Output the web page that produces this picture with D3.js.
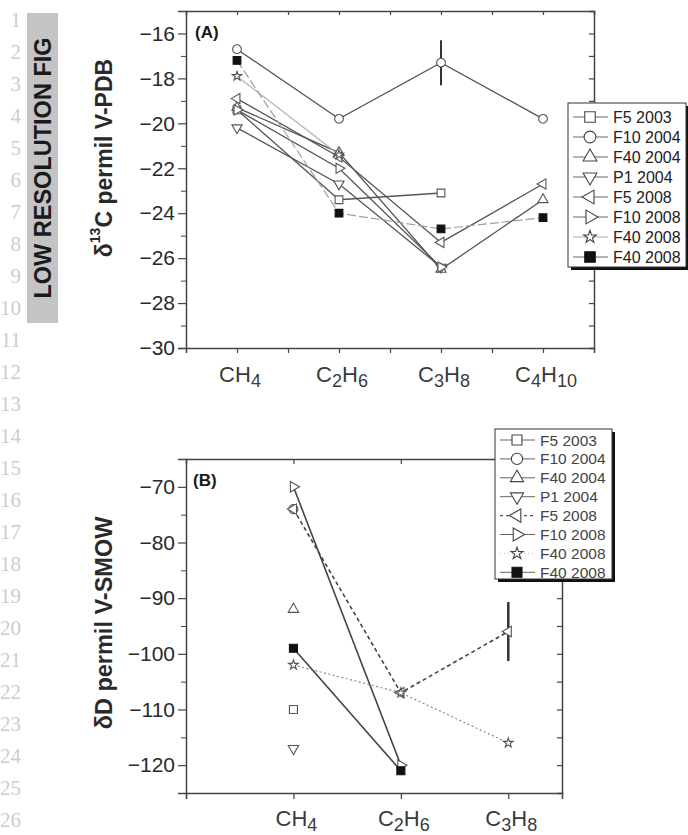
<!DOCTYPE html>
<html><head><meta charset="utf-8">
<script src="https://cdn.jsdelivr.net/npm/d3@7"></script>
<style>body{margin:0;background:#fff}svg{display:block}</style>
</head><body>
<svg id="c" width="688" height="835"></svg>
<script>
// ---------------- data ----------------
const catsA = ["CH4", "C2H6", "C3H8", "C4H10"];
const catsB = ["CH4", "C2H6", "C3H8"];
const legendLabels = ["F5 2003", "F10 2004", "F40 2004", "P1 2004", "F5 2008", "F10 2008", "F40 2008", "F40 2008"];
const yTicksA = [-30, -28, -26, -24, -22, -20, -18, -16];
const yTicksB = [-120, -110, -100, -90, -80, -70];

// panel A: delta13C (permil V-PDB), aligned with catsA
const c13_F5_2003   = [-19.4, -23.4, -23.1, null];
const c13_F10_2004  = [-16.7, -19.8, -17.3, -19.8];
const c13_F40_2004  = [-19.3, -21.3, -26.5, -23.4];
const c13_P1_2004   = [-20.2, -22.7, -26.4, null];
const c13_F5_2008   = [-18.9, -21.5, -25.3, -22.7];
const c13_F10_2008  = [-19.4, -22.0, -26.4, null];
const c13_F40_2008s = [-17.9, -21.4, null, null];
const c13_F40_2008f = [-17.2, -24.0, -24.7, -24.2];
const c13_errCat = 2, c13_errLow = -18.3, c13_errHigh = -16.3;

// panel B: deltaD (permil V-SMOW), aligned with catsB
const dD_F5_2003   = [-110, null, null];
const dD_F10_2004  = [-74, null, null];
const dD_F40_2004  = [-92, null, null];
const dD_P1_2004   = [-117, null, null];
const dD_F5_2008   = [-74, -107, -96];
const dD_F10_2008  = [-70, -120, null];
const dD_F40_2008s = [-102, -107, -116];
const dD_F40_2008f = [-99, -121, null];
const dD_errCat = 2, dD_errLow = -101.3, dD_errHigh = -90.7;

// ---------------- styles ----------------
const shapes = ["square", "circle", "up", "down", "left", "right", "star", "fsquare"];
const seriesA = [c13_F5_2003, c13_F10_2004, c13_F40_2004, c13_P1_2004, c13_F5_2008, c13_F10_2008, c13_F40_2008s, c13_F40_2008f];
const seriesB = [dD_F5_2003, dD_F10_2004, dD_F40_2004, dD_P1_2004, dD_F5_2008, dD_F10_2008, dD_F40_2008s, dD_F40_2008f];
const lineA = [
  {c:"#555", w:1.3, d:null}, {c:"#555", w:1.3, d:null}, {c:"#555", w:1.3, d:null}, {c:"#555", w:1.3, d:null},
  {c:"#555", w:1.3, d:null}, {c:"#555", w:1.3, d:null}, {c:"#b0b0b0", w:1.2, d:null}, {c:"#a0a0a0", w:1.2, d:"9,3"}
];
const lineB = [
  {c:"#444", w:1.5, d:null}, {c:"#444", w:1.5, d:null}, {c:"#444", w:1.5, d:null}, {c:"#444", w:1.5, d:null},
  {c:"#444", w:1.6, d:"4,3"}, {c:"#444", w:1.6, d:null}, {c:"#888", w:1.2, d:"2,2.5"}, {c:"#444", w:1.6, d:null}
];
const legLineA = [null,null,null,null,null,null,{c:"#aaa",w:1,d:null},null];
const legLineB = [null,null,null,null,{c:"#555",w:1.2,d:"3,3"},null,{c:"#bbb",w:1,d:"1,3"},null];
const symScale = {square: 1, fsquare: 1, circle: 1, up: 0.75, down: 0.75, left: 0.75, right: 0.75, star: 0.45};

const svg = d3.select("#c");
const FONT = "Liberation Sans, Arial, Helvetica, sans-serif";

// ---------------- line numbers & watermark ----------------
const nums = d3.range(1, 27);
svg.append("g").selectAll("text").data(nums).join("text")
  .attr("x", 21).attr("y", d => 20 + (d - 1) * 32)
  .attr("text-anchor", "end").attr("dominant-baseline", "central")
  .attr("font-family", "Liberation Serif, DejaVu Serif, serif").attr("font-size", 21)
  .attr("fill", "#cdcdcd").text(d => d);
svg.append("rect").attr("x", 27).attr("y", 13).attr("width", 31).attr("height", 310).attr("fill", "#c4c4c4");
svg.append("text").attr("transform", "translate(43,168) rotate(-90)")
  .attr("text-anchor", "middle").attr("dominant-baseline", "central")
  .attr("font-family", FONT).attr("font-weight", "bold").attr("font-size", 23.5)
  .attr("fill", "#1a1a1a").text("LOW RESOLUTION FIG");

// ---------------- helpers ----------------
function marker(g, shape, x, y, size, stroke) {
  const t = shape === "circle" ? d3.symbolCircle : shape === "star" ? d3.symbolStar :
            (shape === "square" || shape === "fsquare") ? d3.symbolSquare : d3.symbolTriangle;
  const rot = {up: 0, down: 180, left: -90, right: 90}[shape] || 0;
  g.append("path").attr("d", d3.symbol(t, size * symScale[shape])())
    .attr("transform", `translate(${x},${y}) rotate(${rot})`)
    .attr("fill", shape === "fsquare" ? "#111" : "#fff")
    .attr("stroke", shape === "fsquare" ? "#111" : stroke).attr("stroke-width", 1.1);
}
function catLabel(g, name, x, y, size) {
  const t = g.append("text").attr("x", x).attr("y", y).attr("text-anchor", "middle")
    .attr("font-family", FONT).attr("font-size", size).attr("fill", "#3a3a3a");
  const parts = name.match(/[A-Z]+|\d+/g);
  let sub = false;
  parts.forEach(p => {
    const isNum = /\d/.test(p);
    const ts = t.append("tspan").text(p);
    if (isNum && !sub) { ts.attr("dy", 5).attr("font-size", size * 0.82); sub = true; }
    else if (!isNum && sub) { ts.attr("dy", -5); sub = false; }
  });
}
function legend(g, x, y, w, h, row0, step, styles, mSize, fs, txtColor, symX, lx0, lx1, textX) {
  g.append("rect").attr("x", x + 3).attr("y", y + 3).attr("width", w).attr("height", h).attr("fill", "#111");
  g.append("rect").attr("x", x).attr("y", y).attr("width", w).attr("height", h).attr("fill", "#fff").attr("stroke", "#333").attr("stroke-width", 1);
  legendLabels.forEach((lab, i) => {
    const yy = row0 + i * step;
    const st = styles[i] || {c:"#666", w:1, d:null};
    g.append("line").attr("x1", lx0).attr("x2", lx1).attr("y1", yy).attr("y2", yy)
      .attr("stroke", st.c).attr("stroke-width", st.w).attr("stroke-dasharray", st.d);
    marker(g, shapes[i], symX, yy, mSize, "#444");
    g.append("text").attr("x", textX).attr("y", yy).attr("dominant-baseline", "central")
      .attr("font-family", FONT).attr("font-size", fs).attr("fill", txtColor).text(lab);
  });
}

// ---------------- panel A ----------------
const xA = d3.scaleLinear().domain([-0.5, 3.5]).range([186, 594]);
const yA = d3.scaleLinear().domain([-30, -15]).range([348, 11]);
const gA = svg.append("g");
const axC = "#444";
gA.append("g").attr("transform", `translate(${xA(-0.5)},0)`)
  .call(d3.axisLeft(yA).tickValues(d3.range(-29, -15, 2)).tickSize(5).tickFormat(""))
  .call(a => a.selectAll("line").attr("stroke", axC)).call(a => a.select(".domain").remove());
gA.append("g").attr("transform", `translate(${xA(-0.5)},0)`)
  .call(d3.axisLeft(yA).tickValues(yTicksA).tickSize(8).tickPadding(3))
  .call(a => a.selectAll("line").attr("stroke", axC).attr("stroke-width", 1.2))
  .call(a => a.select(".domain").attr("stroke", axC).attr("stroke-width", 1.5))
  .call(a => a.selectAll("text").attr("font-family", FONT).attr("font-size", 21).attr("fill", "#2a2a2a"));
gA.append("g").attr("transform", `translate(0,${yA(-30)})`)
  .call(d3.axisBottom(xA).tickValues(d3.range(0, 3.01, 0.5)).tickSize(5).tickFormat(""))
  .call(a => a.selectAll("line").attr("stroke", axC).attr("stroke-width", 1.2))
  .call(a => a.select(".domain").attr("stroke", axC).attr("stroke-width", 1.5));
gA.append("g").attr("transform", `translate(0,${yA(-15)})`)
  .call(d3.axisTop(xA).tickValues(d3.range(0, 3.01, 0.5)).tickSize(-4).tickFormat(""))
  .call(a => a.selectAll("line").attr("stroke", axC).attr("stroke-width", 1.2))
  .call(a => a.select(".domain").attr("stroke", axC).attr("stroke-width", 1.5));
gA.append("g").attr("transform", `translate(${xA(3.5)},0)`)
  .call(d3.axisRight(yA).tickValues(d3.range(-29, -15, 1)).tickSize(-5).tickFormat(""))
  .call(a => a.selectAll("line").attr("stroke", axC).attr("stroke-width", 1.2))
  .call(a => a.select(".domain").attr("stroke", axC).attr("stroke-width", 1.5));
catsA.forEach((c, i) => catLabel(gA, c, xA(i) + 3, yA(-30) + 34, 22));
gA.append("text").attr("transform", `translate(104,158) rotate(-90)`)
  .attr("text-anchor", "middle").attr("dominant-baseline", "central")
  .attr("font-family", FONT).attr("font-weight", "bold").attr("font-size", 23).attr("fill", "#2a2a2a")
  .call(t => { t.append("tspan").text("δ"); t.append("tspan").attr("dy", -9).attr("font-size", 14).text("13");
               t.append("tspan").attr("dy", 9).text("C  permil V-PDB"); });
gA.append("text").attr("x", 195).attr("y", 38).attr("font-family", FONT).attr("font-weight", "bold")
  .attr("font-size", 17).attr("fill", "#1a1a1a").text("(A)");
const lineGenA = d3.line().defined(d => d != null).x((d, i) => xA(i)).y(d => yA(d));
seriesA.forEach((s, k) => {
  const st = lineA[k];
  gA.append("path").attr("d", lineGenA(s)).attr("fill", "none")
    .attr("stroke", st.c).attr("stroke-width", st.w).attr("stroke-dasharray", st.d);
});
gA.append("line").attr("x1", xA(c13_errCat)).attr("x2", xA(c13_errCat))
  .attr("y1", yA(c13_errLow)).attr("y2", yA(c13_errHigh)).attr("stroke", "#333").attr("stroke-width", 2);
seriesA.forEach((s, k) => s.forEach((v, i) => { if (v != null) marker(gA, shapes[k], xA(i), yA(v), 60, "#555"); }));
legend(gA, 568, 103, 118, 164, 117, 20, legLineA, 110, 16, "#222", 590, 573, 608, 613);

// ---------------- panel B ----------------
const xB = d3.scaleLinear().domain([-1, 2.5]).range([186, 562]);
const yB = d3.scaleLinear().domain([-125, -65]).range([793, 459]);
const gB = svg.append("g");
gB.append("g").attr("transform", `translate(${xB(-1)},0)`)
  .call(d3.axisLeft(yB).tickValues(d3.range(-125, -64, 10)).tickSize(5).tickFormat(""))
  .call(a => a.selectAll("line").attr("stroke", axC)).call(a => a.select(".domain").remove());
gB.append("g").attr("transform", `translate(${xB(-1)},0)`)
  .call(d3.axisLeft(yB).tickValues(yTicksB).tickSize(8).tickPadding(3))
  .call(a => a.selectAll("line").attr("stroke", axC).attr("stroke-width", 1.2))
  .call(a => a.select(".domain").attr("stroke", axC).attr("stroke-width", 1.5))
  .call(a => a.selectAll("text").attr("font-family", FONT).attr("font-size", 21).attr("fill", "#2a2a2a"));
gB.append("g").attr("transform", `translate(0,${yB(-125)})`)
  .call(d3.axisBottom(xB).tickValues([-1, 0, 1, 2]).tickSize(6).tickFormat(""))
  .call(a => a.selectAll("line").attr("stroke", axC).attr("stroke-width", 1.2))
  .call(a => a.select(".domain").attr("stroke", axC).attr("stroke-width", 1.5));
gB.append("g").attr("transform", `translate(0,${yB(-65)})`)
  .call(d3.axisTop(xB).tickValues([0, 1, 2]).tickSize(-5).tickFormat(""))
  .call(a => a.selectAll("line").attr("stroke", axC).attr("stroke-width", 1.2))
  .call(a => a.select(".domain").attr("stroke", axC).attr("stroke-width", 1.5));
gB.append("g").attr("transform", `translate(${xB(2.5)},0)`)
  .call(d3.axisRight(yB).tickValues(d3.range(-120, -64, 5)).tickSize(-5).tickFormat(""))
  .call(a => a.selectAll("line").attr("stroke", axC).attr("stroke-width", 1.2))
  .call(a => a.select(".domain").attr("stroke", axC).attr("stroke-width", 1.5));
catsB.forEach((c, i) => catLabel(gB, c, xB(i) + 3, yB(-125) + 33, 22));
gB.append("text").attr("transform", `translate(104,623) rotate(-90)`)
  .attr("text-anchor", "middle").attr("dominant-baseline", "central")
  .attr("font-family", FONT).attr("font-weight", "bold").attr("font-size", 23.5).attr("fill", "#2a2a2a")
  .text("δD  permil V-SMOW");
gB.append("text").attr("x", 193).attr("y", 486).attr("font-family", FONT).attr("font-weight", "bold")
  .attr("font-size", 17).attr("fill", "#1a1a1a").text("(B)");
const lineGenB = d3.line().defined(d => d != null).x((d, i) => xB(i)).y(d => yB(d));
seriesB.forEach((s, k) => {
  const st = lineB[k];
  gB.append("path").attr("d", lineGenB(s)).attr("fill", "none")
    .attr("stroke", st.c).attr("stroke-width", st.w).attr("stroke-dasharray", st.d);
});
gB.append("line").attr("x1", xB(dD_errCat)).attr("x2", xB(dD_errCat))
  .attr("y1", yB(dD_errLow)).attr("y2", yB(dD_errHigh)).attr("stroke", "#333").attr("stroke-width", 2.5);
seriesB.forEach((s, k) => s.forEach((v, i) => { if (v != null) marker(gB, shapes[k], xB(i), yB(v), 64, "#555"); }));
legend(gB, 495, 429, 117, 150, 440, 18.9, legLineB, 100, 15.5, "#444", 517, 500, 535, 540);
</script>
</body></html>
